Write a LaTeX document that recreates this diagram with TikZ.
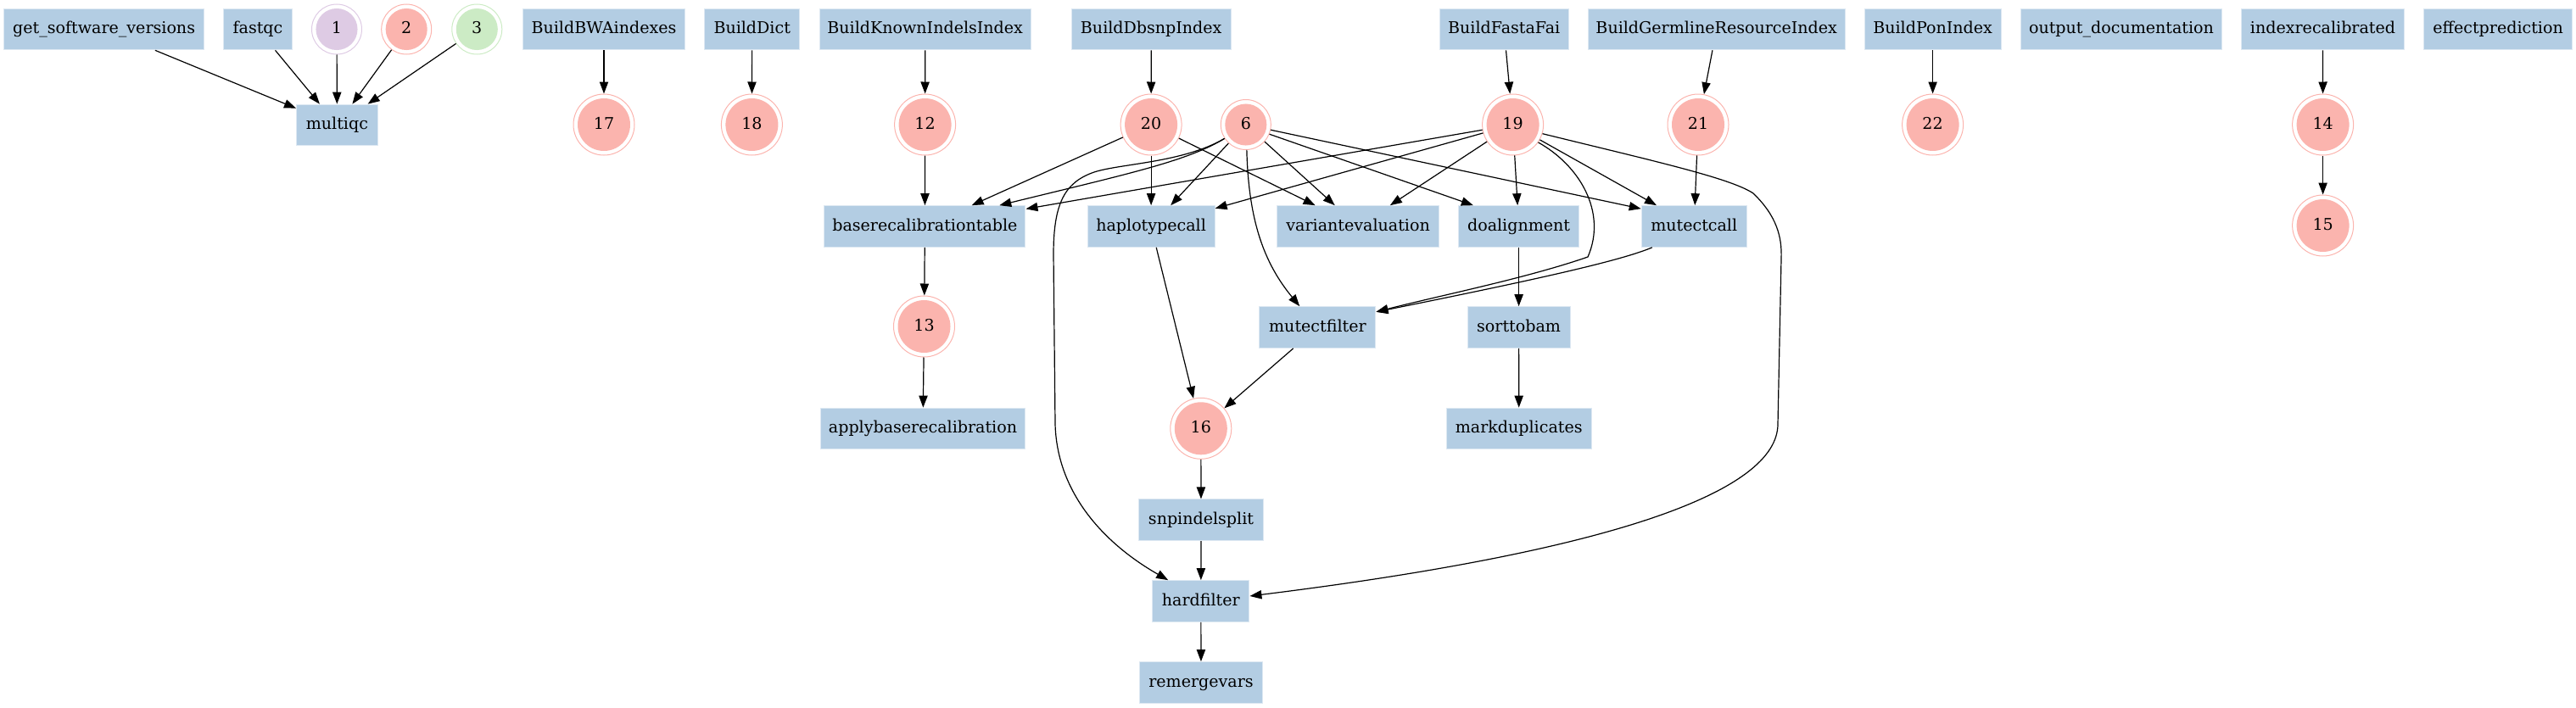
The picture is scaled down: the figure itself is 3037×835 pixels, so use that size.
\documentclass[tikz,border=0pt]{standalone}
\usepackage{fontspec}
\setmainfont{DejaVu Serif}
\usetikzlibrary{arrows.meta}
\definecolor{boxc}{HTML}{B3CDE3}
\definecolor{salm}{HTML}{FBB4AE}
\definecolor{purp}{HTML}{DECBE4}
\definecolor{gree}{HTML}{CCEBC5}
\begin{document}
\begin{tikzpicture}[x=0.75pt,y=-0.75pt,
  every node/.style={font=\fontsize{14.3}{17}\selectfont, text height=10.9pt, text depth=2.9pt},
  box/.style={rectangle, fill=boxc, draw=boxc!45!white, line width=0.75pt, inner sep=0pt, minimum height=36.5pt, minimum width=#1},
  dc/.style n args={3}{circle, inner sep=0pt, draw=#1, line width=0.75pt, minimum size=#2,
     path picture={\fill[#1] (path picture bounding box.center) circle[radius=#3];}},
  big/.style={dc={salm}{54pt}{23.25pt}},
  sml/.style={dc={#1}{44.25pt}{18.4pt}},
  arr/.style={draw, line width=0.9pt, -{Triangle[length=10.5pt,width=7.7pt]}},
]
\useasboundingbox (0,0) rectangle (3037,835);
% row 0
\node[box=176.8pt] (gsv) at (122.6,34.5) {get\_software\_versions};
\node[box=61.1pt] (fastqc) at (304,34.5) {fastqc};
\node[sml=purp] (n1) at (397,34.5) {1};
\node[sml=salm] (n2) at (479.2,34.5) {2};
\node[sml=gree] (n3) at (562.3,34.5) {3};
\node[box=143.6pt] (bwa) at (712,34.5) {BuildBWAindexes};
\node[box=83.7pt] (dict) at (886.7,34.5) {BuildDict};
\node[box=186.8pt] (kii) at (1090.7,34.5) {BuildKnownIndelsIndex};
\node[box=140.9pt] (dbsnp) at (1357.2,34.5) {BuildDbsnpIndex};
\node[box=113.9pt] (fai) at (1773.2,34.5) {BuildFastaFai};
\node[box=227pt] (germ) at (2023.7,34.5) {BuildGermlineResourceIndex};
\node[box=120.9pt] (pon) at (2278.6,34.5) {BuildPonIndex};
\node[box=177.5pt] (odoc) at (2501,34.5) {output\_documentation};
\node[box=143.8pt] (idxr) at (2738.5,34.5) {indexrecalibrated};
\node[box=130.7pt] (effp) at (2945,34.5) {effectprediction};
% row 1
\node[box=71.8pt] (multiqc) at (397.4,147.5) {multiqc};
\node[big] (n17) at (712,147) {17};
\node[big] (n18) at (886.4,147) {18};
\node[big] (n12) at (1090.6,147) {12};
\node[big] (n20) at (1357.1,147) {20};
\node[sml=salm] (n6) at (1468.8,147) {6};
\node[big] (n19) at (1783.6,147) {19};
\node[big] (n21) at (2002,147) {21};
\node[big] (n22) at (2278.6,147) {22};
\node[big] (n14) at (2738.6,147) {14};
% row 2
\node[box=177.8pt] (brt) at (1090.4,267) {baserecalibrationtable};
\node[box=112.5pt] (hc) at (1357.1,267) {haplotypecall};
\node[box=143pt] (ve) at (1601.1,267) {variantevaluation};
\node[box=106.8pt] (da) at (1790.6,267) {doalignment};
\node[box=93pt] (mc) at (1997.2,267) {mutectcall};
\node[big] (n15) at (2738.6,266) {15};
% row 3
\node[big] (n13) at (1089.5,385) {13};
\node[box=102.8pt] (mf) at (1553.4,386) {mutectfilter};
\node[box=90.8pt] (stb) at (1790.6,386) {sorttobam};
% row 4
\node[box=181pt] (abr) at (1088,505.5) {applybaserecalibration};
\node[big] (n16) at (1415.8,505.3) {16};
\node[box=128pt] (md) at (1790.7,505.5) {markduplicates};
% rows 5-7
\node[box=110pt] (snp) at (1416,613.3) {snpindelsplit};
\node[box=85.7pt] (hf) at (1415.8,709) {hardfilter};
\node[box=109pt] (rv) at (1416,805) {remergevars};
% edges
\draw[arr] (gsv) -- (multiqc);
\draw[arr] (fastqc) -- (multiqc);
\draw[arr] (n1) -- (multiqc);
\draw[arr] (n2) -- (multiqc);
\draw[arr] (n3) -- (multiqc);
\draw[arr] (bwa) -- (n17);
\draw[arr] (dict) -- (n18);
\draw[arr] (kii) -- (n12);
\draw[arr] (dbsnp) -- (n20);
\draw[arr] (fai) -- (n19);
\draw[arr] (germ) -- (n21);
\draw[arr] (pon) -- (n22);
\draw[arr] (idxr) -- (n14);
\draw[arr] (n14) -- (n15);
\draw[arr] (n12) -- (brt);
\draw[arr] (n20) -- (brt);
\draw[arr] (n20) -- (hc);
\draw[arr] (n20) -- (ve);
\draw[arr] (n6) -- (hc);
\draw[arr] (n6) -- (ve);
\draw[arr] (n6.-22) -- ([xshift=13.5pt]da.north west);
\draw[arr] (n6.-12) -- ([yshift=-3pt]mc.north west);
\draw[arr] (n19) -- (brt);
\draw[arr] (n19) -- (hc);
\draw[arr] (n19) -- (ve);
\draw[arr] (n19) -- (da);
\draw[arr] (n19) -- (mc);
\draw[arr] (n21) -- (mc);
\draw[arr] (brt) -- (n13);
\draw[arr] (n13) -- (abr);
\draw[arr] (hc) -- (n16);
\draw[arr] (mf) -- (n16);
\draw[arr] (da) -- (stb);
\draw[arr] (stb) -- (md);
\draw[arr] (n16) -- (snp);
\draw[arr] (snp) -- (hf);
\draw[arr] (hf) -- (rv);
% curved edges
\draw[arr] (n6.213) .. controls (1400,190) and (1330,205) .. ([xshift=-23.4pt]brt.north east);
\draw[arr] (n6.213) .. controls (1395,192) and (1320,193) .. (1290,203) .. controls (1255,215) and (1242,240) .. (1242,300) -- (1244,500) .. controls (1246,580) and (1300,640) .. ([xshift=14.25pt]hf.north west);
\draw[arr] (n6.-88) .. controls (1472,260) and (1490,310) .. ([xshift=35.9pt]mf.north west);
\draw[arr] (n19.-35) .. controls (1862,195) and (1895,250) .. (1872,303) .. controls (1800,328) and (1700,348) .. ([yshift=-5pt]mf.north east);
\draw[arr] ([xshift=9.8pt]mc.south west) .. controls (1910,308) and (1800,332) .. ([yshift=-5pt]mf.north east);
\draw[arr] (n19.-17) .. controls (1950,190) and (2040,210) .. (2067,228) .. controls (2095,255) and (2101,280) .. (2100,305) -- (2096,500) .. controls (2096,580) and (1900,650) .. ([yshift=4.5pt]hf.east);
\end{tikzpicture}
\end{document}
